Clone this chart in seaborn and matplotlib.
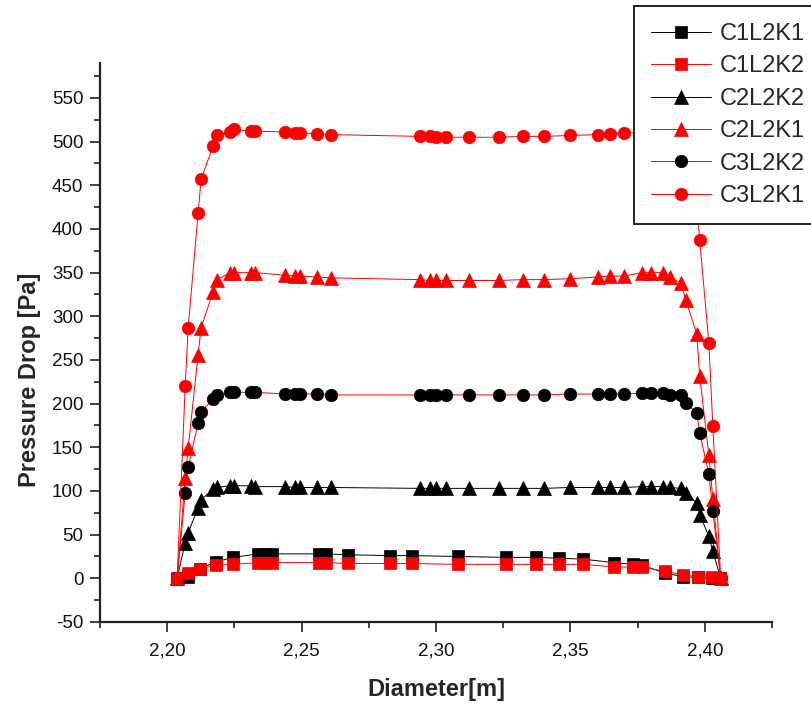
import numpy as np
import pandas as pd
import matplotlib
matplotlib.use("Agg")
import matplotlib.pyplot as plt
import seaborn as sns

# ---- data ----
d_c1 = [2.2037, 2.2078, 2.2123, 2.2182, 2.2245, 2.2338, 2.2364, 2.2390, 2.2565, 2.2591,
        2.2673, 2.2829, 2.2911, 2.3082, 2.3260, 2.3372, 2.3457, 2.3546, 2.3662, 2.3732,
        2.3766, 2.3851, 2.3918, 2.3974, 2.4026, 2.4056]
c1l2k1 = [0, 1, 11, 19, 24, 28, 28, 28, 28, 28,
          27, 26, 26, 25, 24, 24, 23, 22, 18, 16,
          15, 6, 2, 1, 0, 0]
c1l2k2 = [0, 6, 11, 15, 16, 18, 18, 18, 18, 18,
          17, 17, 17, 16, 16, 16, 16, 16, 13, 13,
          13, 8, 4, 2, 1, 0]

d_c23 = [2.2037, 2.2067, 2.2078, 2.2115, 2.2126, 2.2171, 2.2186, 2.2234, 2.2249, 2.2312,
         2.2327, 2.2439, 2.2476, 2.2494, 2.2558, 2.2610, 2.2941, 2.2978, 2.3000, 2.3037,
         2.3123, 2.3234, 2.3323, 2.3401, 2.3498, 2.3602, 2.3647, 2.3699, 2.3766, 2.3799,
         2.3844, 2.3870, 2.3911, 2.3929, 2.3970, 2.3981, 2.4015, 2.4030, 2.4059]
c2l2k2 = [0, 41, 52, 81, 90, 102, 104, 106, 106, 106,
          105, 105, 104, 104, 104, 104, 103, 103, 103, 103,
          103, 103, 103, 103, 104, 104, 104, 104, 105, 105,
          105, 104, 103, 98, 86, 73, 48, 31, 0]
c2l2k1 = [0, 115, 149, 256, 287, 328, 342, 350, 350, 350,
          350, 347, 346, 346, 345, 344, 342, 341, 341, 341,
          341, 341, 342, 342, 343, 345, 346, 346, 350, 350,
          350, 345, 338, 319, 280, 232, 141, 91, 0]
c3l2k2 = [0, 98, 127, 178, 191, 205, 210, 213, 213, 213,
          213, 211, 211, 211, 211, 210, 210, 210, 210, 210,
          210, 210, 210, 210, 211, 211, 211, 211, 212, 212,
          212, 210, 210, 201, 189, 166, 120, 77, 0]
c3l2k1 = [0, 220, 287, 418, 457, 495, 507, 511, 514, 512,
          512, 511, 510, 510, 509, 508, 506, 506, 505, 505,
          505, 505, 506, 506, 507, 508, 509, 510, 510, 510,
          510, 510, 500, 470, 430, 387, 270, 174, 0]

series_names = ["C1L2K1", "C1L2K2", "C2L2K2", "C2L2K1", "C3L2K2", "C3L2K1"]

xticks = [2.20, 2.25, 2.30, 2.35, 2.40]
xtick_labels = ["2,20", "2,25", "2,30", "2,35", "2,40"]
yticks = [-50, 0, 50, 100, 150, 200, 250, 300, 350, 400, 450, 500, 550]
ytick_labels = [str(v) for v in yticks]

# ---- styling ----
sns.set_style("ticks")
plt.rcParams["font.family"] = ["Liberation Sans", "DejaVu Sans"]

fig = plt.figure(figsize=(8.11, 7.11), dpi=100)
ax = fig.add_axes([100 / 811, (711 - 622) / 711, 672 / 811, (622 - 63) / 711])

frames = []
for name, d, v in [("C1L2K1", d_c1, c1l2k1), ("C1L2K2", d_c1, c1l2k2),
                   ("C2L2K2", d_c23, c2l2k2), ("C2L2K1", d_c23, c2l2k1),
                   ("C3L2K2", d_c23, c3l2k2), ("C3L2K1", d_c23, c3l2k1)]:
    frames.append(pd.DataFrame({"d": d, "v": v, "series": name}))
df = pd.concat(frames, ignore_index=True)

styles = {
    "C1L2K1": dict(line="black", mk="s", mc="black", ms=8.5),
    "C1L2K2": dict(line="red", mk="s", mc="red", ms=8.5),
    "C2L2K2": dict(line="black", mk="^", mc="black", ms=9.5),
    "C2L2K1": dict(line="red", mk="^", mc="red", ms=9.5),
    "C3L2K2": dict(line="red", mk="o", mc="black", ms=9),
    "C3L2K1": dict(line="red", mk="o", mc="red", ms=9),
}

for name in series_names:
    st = styles[name]
    sub = df[df["series"] == name]
    sns.lineplot(data=sub, x="d", y="v", ax=ax, color=st["line"], lw=0.7,
                 marker=st["mk"], markersize=st["ms"], markerfacecolor=st["mc"],
                 markeredgecolor=st["mc"], markeredgewidth=0.5,
                 label=name, estimator=None, sort=False, legend=False)

ax.set_xlim(2.175, 2.425)
ax.set_ylim(-50, 590)
ax.set_xticks(xticks)
ax.set_xticklabels(xtick_labels)
ax.set_yticks(yticks)
ax.set_yticklabels(ytick_labels)
ax.set_xticks(np.arange(2.175, 2.4251, 0.025), minor=True)
ax.set_yticks(np.arange(-50, 590, 25), minor=True)

for s in ["top", "right"]:
    ax.spines[s].set_visible(False)
for s in ["left", "bottom"]:
    ax.spines[s].set_linewidth(1.6)
    ax.spines[s].set_color("#222222")

ax.tick_params(axis="both", which="major", direction="out", length=7, width=1.2,
               labelsize=13.5, colors="#222222", labelcolor="#111111")
ax.tick_params(axis="x", which="major", pad=8)
ax.tick_params(axis="y", which="major", pad=5)
ax.tick_params(axis="both", which="minor", direction="out", length=4, width=1.2,
               colors="#222222")

ax.set_xlabel("Diameter[m]", fontsize=17, fontweight="bold")
ax.set_ylabel("Pressure Drop [Pa]", fontsize=17, fontweight="bold")
ax.xaxis.set_label_coords(0.5, -0.101)
ax.yaxis.set_label_coords(-0.088, 0.433)

handles, labels = ax.get_legend_handles_labels()
leg = fig.legend(handles, labels, loc="upper left",
                 bbox_to_anchor=(634 / 811, 1 - 6 / 711), bbox_transform=fig.transFigure,
                 fontsize=17, frameon=True, fancybox=False, framealpha=1,
                 edgecolor="#222222", borderpad=0.72, labelspacing=0.44,
                 handlelength=2.54, handletextpad=0.38, borderaxespad=0)
leg.get_frame().set_linewidth(1.4)

fig.savefig("out.png", dpi=100)
